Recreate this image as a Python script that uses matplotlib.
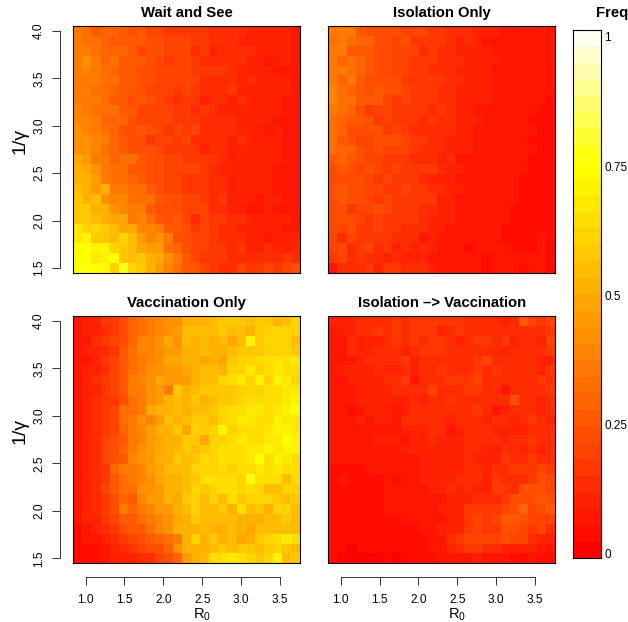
import colorsys
import numpy as np
import matplotlib
matplotlib.use("Agg")
import matplotlib.pyplot as plt
from matplotlib.colors import ListedColormap, BoundaryNorm

plt.rcParams['font.family'] = ['Liberation Sans', 'DejaVu Sans']
plt.rcParams['mathtext.default'] = 'regular'

W, H = 628, 622

# grid of the simulation
r0_vals = np.linspace(0.9, 3.7, 25)
gamma_vals = np.linspace(1.5, 4.0, 25)
x_ticks = [1.0, 1.5, 2.0, 2.5, 3.0, 3.5]
y_ticks = [1.5, 2.0, 2.5, 3.0, 3.5, 4.0]
bar_ticks = [0, 0.25, 0.5, 0.75, 1]
bar_labels = ["0", "0.25", "0.5", "0.75", "1"]

# frequencies in percent, first row is 1/gamma = 4.0, last is 1.5
wait_see = [
    [36,33,27,29,29,25,23,25,20,18,17,17,16,15,15,13,13,12,12,11,10,10,9,9,7],
    [37,31,31,30,27,27,26,25,22,21,19,18,18,17,15,14,13,13,11,11,10,10,9,9,7],
    [35,37,33,30,29,28,26,18,23,22,20,19,18,14,16,11,12,14,13,12,10,10,9,9,7],
    [36,41,36,29,31,25,25,25,23,19,17,20,19,17,14,14,13,12,12,10,11,8,9,9,7],
    [37,38,37,33,30,26,25,24,22,19,19,18,18,16,15,17,15,13,11,10,10,9,7,8,6],
    [36,34,34,33,31,27,25,23,22,20,20,19,18,18,12,12,13,12,11,13,10,11,10,10,7],
    [37,37,32,33,29,26,27,24,19,20,19,17,19,17,13,14,12,15,11,11,11,10,9,9,8],
    [35,37,36,32,26,27,23,25,21,20,16,12,17,16,11,14,13,11,14,11,9,9,9,8,7],
    [40,35,33,33,31,27,25,18,18,18,18,17,17,12,16,14,11,11,11,10,10,9,9,8,8],
    [40,39,37,29,30,28,22,20,19,20,18,17,16,15,14,12,13,12,11,10,11,9,8,7,6],
    [41,40,37,33,30,24,24,26,24,19,16,18,15,18,13,14,12,13,11,11,10,8,9,8,7],
    [42,42,38,34,30,27,24,23,17,19,19,17,18,14,13,12,12,11,12,9,10,10,9,7,7],
    [43,41,38,32,30,26,24,24,21,19,17,17,15,16,11,12,14,11,10,11,10,9,9,7,7],
    [49,45,37,36,29,31,33,26,22,22,20,18,17,16,17,15,12,11,10,11,9,9,9,6,7],
    [50,48,42,36,32,31,27,26,23,21,18,18,18,18,16,13,11,11,10,9,10,9,8,8,7],
    [52,50,45,36,33,32,28,27,23,22,19,19,17,17,16,14,12,11,9,11,10,9,8,7,7],
    [55,50,46,51,37,37,32,33,26,21,19,18,16,17,15,13,12,10,9,10,10,9,8,7,7],
    [59,52,56,42,38,38,33,33,31,26,22,22,18,18,15,13,15,10,10,11,8,9,9,6,8],
    [57,57,53,51,42,38,36,35,27,24,22,22,20,18,18,12,13,11,9,8,8,10,8,8,8],
    [58,59,54,52,48,48,36,38,31,27,24,25,20,13,20,15,15,13,12,9,11,10,9,9,8],
    [68,62,60,58,56,47,47,40,38,36,25,26,22,17,19,16,13,13,10,11,10,10,10,8,6],
    [68,72,58,58,55,60,55,44,40,41,34,24,24,18,18,16,13,12,12,9,11,8,10,9,9],
    [73,73,71,71,60,58,55,47,45,45,32,30,23,19,18,16,16,13,15,10,11,12,11,10,10],
    [73,73,69,71,74,58,56,58,53,48,41,36,25,18,17,15,16,13,12,12,12,12,12,15,14],
    [78,76,75,74,60,76,60,58,50,44,39,33,27,25,19,17,14,13,19,17,17,18,15,20,24],
]
isolation_only = [
    [34,37,36,26,24,22,24,22,20,19,18,17,15,13,13,12,11,11,9,8,7,6,6,6,5],
    [33,34,31,28,30,23,22,18,22,16,15,15,15,14,11,12,11,8,8,8,7,6,6,6,5],
    [37,36,27,27,26,23,21,19,19,18,14,16,14,14,11,10,11,9,8,6,8,6,6,5,5],
    [35,30,33,30,27,23,21,20,18,17,16,15,13,12,12,10,10,9,9,7,6,6,6,5,5],
    [37,34,32,30,26,21,23,19,18,17,16,12,13,12,11,11,9,9,8,7,6,6,6,5,5],
    [36,30,34,27,24,23,23,22,17,17,15,15,15,12,12,10,9,9,8,6,6,6,5,5,5],
    [39,31,29,26,23,26,23,21,19,16,15,15,13,12,11,10,9,10,7,6,7,6,5,6,5],
    [39,32,31,25,25,25,19,17,18,16,15,15,13,13,10,11,9,9,8,6,7,6,5,5,4],
    [35,31,28,21,16,20,19,15,15,17,15,14,15,12,9,10,8,7,7,6,6,6,5,4,4],
    [31,28,27,25,23,17,20,17,15,15,12,15,13,12,11,9,9,8,7,6,6,6,4,4,3],
    [33,29,23,24,23,21,16,18,15,13,13,13,12,12,9,9,8,8,6,7,6,5,5,4,3],
    [32,27,24,20,19,21,21,22,18,17,15,13,12,11,10,9,8,7,6,6,6,5,4,4,3],
    [31,30,28,24,20,23,19,19,18,16,13,14,12,10,11,9,8,8,6,6,6,5,5,4,3],
    [27,28,27,22,20,18,17,17,15,14,13,14,11,12,8,8,7,6,5,6,5,5,4,3,3],
    [23,25,22,20,21,18,16,18,17,16,16,15,12,10,10,8,7,6,6,6,5,5,4,4,3],
    [24,23,21,22,19,17,19,16,16,15,13,10,9,9,8,7,7,6,6,5,5,4,4,3,3],
    [23,25,24,21,18,20,17,15,18,16,15,14,13,9,9,7,6,6,5,6,5,4,3,3,3],
    [24,25,21,23,19,16,19,15,17,15,15,16,10,10,8,7,7,6,6,5,5,4,3,3,3],
    [23,24,15,19,20,21,18,17,15,15,14,12,9,9,8,7,6,6,6,5,4,4,3,4,3],
    [22,21,22,18,15,19,16,17,15,15,12,10,10,9,7,7,6,6,5,5,3,3,3,3,3],
    [21,18,22,17,16,18,15,15,14,13,12,9,9,8,7,6,6,5,5,4,3,3,3,3,3],
    [20,12,19,15,17,15,15,14,13,12,7,10,7,7,6,6,6,5,5,4,4,4,3,5,3],
    [19,18,12,15,19,14,15,11,12,10,12,11,8,7,6,4,6,5,5,6,4,3,4,5,4],
    [16,19,14,15,13,14,11,14,10,11,10,7,6,7,6,6,6,4,5,6,6,5,6,5,3],
    [6,14,13,12,17,9,15,15,14,13,13,9,6,6,5,5,5,3,7,6,5,4,6,7,3],
]
vaccination_only = [
    [5,9,9,15,17,21,29,31,35,38,41,41,50,51,52,55,58,58,58,56,57,57,51,56,62],
    [6,9,10,14,17,21,29,31,34,40,43,44,55,55,55,55,58,56,56,53,58,60,60,62,60],
    [6,8,12,16,18,22,30,40,40,42,49,43,56,53,55,51,55,48,55,72,59,60,62,60,56],
    [6,10,11,14,16,25,32,38,40,43,46,46,52,52,54,53,51,55,59,58,58,62,62,61,59],
    [5,8,10,16,20,26,32,36,40,43,49,47,52,53,48,52,49,57,60,61,65,64,67,65,68],
    [7,9,11,14,18,27,32,36,42,43,46,45,47,52,56,54,53,60,61,68,61,63,67,64,64],
    [7,10,13,16,20,25,34,38,41,47,46,46,44,53,55,55,60,66,68,61,70,60,71,68,62],
    [6,9,11,15,19,27,34,37,42,46,36,57,50,54,57,59,59,58,61,61,62,63,64,69,67],
    [7,10,13,16,17,21,32,35,41,46,51,56,52,57,52,55,57,58,61,63,63,65,65,69,71],
    [7,10,13,15,20,31,31,34,47,50,53,55,51,54,55,59,60,63,65,68,67,63,67,70,74],
    [7,11,13,17,20,32,37,43,40,45,56,50,55,59,59,56,61,63,67,68,66,66,71,68,69],
    [8,10,13,16,20,28,35,39,46,51,51,57,47,60,57,61,71,61,65,66,65,68,70,72,69],
    [7,9,13,18,21,27,37,40,44,47,50,51,57,59,49,60,61,65,67,66,66,69,68,74,71],
    [6,11,14,18,22,29,35,42,44,49,53,54,57,55,59,61,63,66,66,68,68,71,68,70,72],
    [7,11,14,18,21,25,38,41,46,51,53,57,56,57,63,62,65,65,65,69,74,65,71,69,66],
    [6,10,12,16,28,34,35,39,45,48,55,56,56,60,62,61,63,62,65,66,68,65,67,65,63],
    [6,9,12,17,25,31,34,39,42,47,51,52,55,58,63,63,64,64,60,75,64,65,64,56,64],
    [5,9,13,20,26,31,33,41,42,46,51,52,54,61,59,60,64,64,62,64,62,55,56,60,62],
    [6,9,12,16,23,30,27,39,44,44,50,49,58,60,55,61,56,65,59,62,60,60,59,56,58],
    [6,10,13,15,21,34,29,35,39,44,46,53,55,62,56,55,57,53,66,55,58,53,60,60,54],
    [6,9,11,15,18,25,27,31,37,39,43,48,53,57,54,54,56,55,53,52,50,56,55,57,54],
    [4,8,10,13,16,21,26,27,31,38,42,50,53,53,56,51,50,56,53,48,54,56,56,56,54],
    [3,5,7,11,13,16,19,23,26,28,32,36,51,62,53,58,50,54,49,53,57,61,65,68,66],
    [3,4,4,8,11,12,15,18,21,23,28,42,50,52,53,56,58,56,59,58,56,57,60,59,55],
    [3,4,2,5,9,10,11,13,14,18,22,29,46,50,54,63,65,67,63,61,57,60,70,56,58],
]
iso_then_vacc = [
    [9,10,11,12,12,13,14,15,13,16,15,15,17,15,15,14,13,12,12,11,13,25,20,16,20],
    [8,9,9,12,12,15,13,16,12,15,16,16,9,14,15,14,14,13,13,12,12,13,14,13,17],
    [8,8,12,10,11,11,13,15,12,16,14,15,15,14,11,14,16,15,14,15,10,14,13,11,18],
    [7,8,13,10,11,12,13,14,11,12,15,15,15,13,13,12,14,14,13,11,12,13,13,12,15],
    [6,7,7,10,12,12,13,12,15,11,13,14,13,13,14,14,15,18,13,13,13,12,12,11,11],
    [6,9,9,10,11,12,11,10,13,10,13,13,15,14,13,14,17,14,15,14,13,12,14,11,15],
    [7,8,9,10,9,10,12,13,15,8,12,13,14,15,15,16,20,14,14,14,12,14,13,17,14],
    [8,7,8,9,10,9,10,13,13,12,13,19,14,14,14,15,16,14,13,8,12,13,14,14,15],
    [7,8,7,10,11,10,9,11,11,12,11,14,14,16,14,13,13,14,13,13,21,12,12,10,12],
    [6,7,4,8,9,9,9,8,10,12,13,12,14,13,14,13,15,14,8,11,12,13,13,11,13],
    [6,8,8,9,8,11,10,7,12,12,12,14,12,11,13,12,14,9,14,12,11,13,17,13,11],
    [6,6,7,7,6,8,8,8,10,10,10,13,12,8,11,12,13,13,11,10,10,11,13,12,13],
    [6,6,5,8,8,11,10,9,8,11,11,12,10,9,10,13,13,14,12,11,13,12,16,14,14],
    [5,6,6,6,7,7,7,7,10,10,11,10,9,11,10,14,13,10,11,14,12,10,13,11,12],
    [5,5,5,6,6,6,6,6,8,7,9,9,10,10,10,12,10,11,11,15,12,12,16,14,14],
    [4,4,4,4,5,5,5,7,8,8,10,11,11,10,11,13,13,11,14,13,16,15,17,19,17],
    [4,5,3,4,4,4,5,3,7,7,9,9,9,9,13,12,12,10,17,12,13,14,17,22,19],
    [4,3,4,4,4,4,5,5,6,7,7,9,10,12,10,12,11,9,15,15,14,24,23,22,20],
    [3,3,3,4,4,4,5,5,5,6,7,8,8,9,10,10,12,14,13,17,23,24,23,25,21],
    [3,3,3,3,3,4,5,5,6,6,8,8,9,11,10,15,16,15,17,20,24,30,20,23,26],
    [2,2,3,3,3,4,4,4,5,5,6,7,8,10,11,17,18,17,20,26,25,23,18,20,19],
    [2,2,2,2,3,3,3,4,4,4,5,8,9,10,11,16,20,16,16,24,21,19,15,20,14],
    [2,2,2,2,2,3,4,3,4,4,3,5,7,12,17,19,20,20,19,24,19,19,14,10,10],
    [2,2,1,2,2,2,2,2,2,3,4,6,8,10,14,15,15,14,14,10,9,9,10,8,7],
    [2,1,1,1,1,1,2,1,2,2,3,4,5,6,7,8,9,8,8,6,4,3,5,4,3],
]


def heat_colors(n):
    """same ramp as R heat.colors"""
    j = n // 4
    i = n - j
    cols = [colorsys.hsv_to_rgb(h, 1, 1) for h in np.linspace(0, 1 / 6, i)]
    cols += [colorsys.hsv_to_rgb(1 / 6, s, 1)
             for s in np.linspace(1 - 1 / (2 * j), 1 / (2 * j), j)]
    return cols


n_levels = 32
cmap = ListedColormap(heat_colors(n_levels))
norm = BoundaryNorm(np.linspace(-1 / 62, 1 + 1 / 62, n_levels + 1), n_levels)


def px_axes(left, top, right, bottom):
    return fig.add_axes([left / W, 1 - bottom / H, (right - left) / W, (bottom - top) / H])


def edges(vals):
    step = vals[1] - vals[0]
    return np.append(vals - step / 2, vals[-1] + step / 2)


def draw_panel(box, values, title, left_axis, bottom_axis):
    ax = px_axes(*box)
    grid = np.array(values)[::-1] / 100
    ax.pcolormesh(edges(r0_vals), edges(gamma_vals), grid, cmap=cmap, norm=norm)
    ax.set_xticks([])
    ax.set_yticks([])
    for s in ax.spines.values():
        s.set_linewidth(0.8)
    ax.text(0.5, 1.026, title, transform=ax.transAxes, ha='center', va='bottom',
            fontsize=10.7, fontweight='bold')
    if left_axis:
        sec = ax.secondary_yaxis(-0.06)
        sec.set_yticks(y_ticks)
        sec.set_yticklabels([f"{v:.1f}" for v in y_ticks], rotation=90, va='center', fontsize=8.6)
        sec.tick_params(length=5.5, width=0.7, pad=5, color='#333333')
        sec.spines['left'].set_bounds(y_ticks[0], y_ticks[-1])
        sec.spines['left'].set_linewidth(0.7)
        sec.spines['left'].set_color('#333333')
    if bottom_axis:
        sec = ax.secondary_xaxis(-0.056)
        sec.set_xticks(x_ticks)
        sec.set_xticklabels([f"{v:.1f}" for v in x_ticks], fontsize=8.6)
        sec.tick_params(length=5.5, width=0.7, pad=6.5, color='#333333')
        sec.spines['bottom'].set_bounds(x_ticks[0], x_ticks[-1])
        sec.spines['bottom'].set_linewidth(0.7)
        sec.spines['bottom'].set_color('#333333')
    return ax


fig = plt.figure(figsize=(W / 100, H / 100), dpi=100)

draw_panel((73.3, 26, 300, 273), wait_see, "Wait and See", True, False)
draw_panel((328.4, 26, 555, 273), isolation_only, "Isolation Only", False, False)
draw_panel((73.3, 316, 300, 563.3), vaccination_only, "Vaccination Only", True, True)
draw_panel((328.4, 316, 555, 563.3), iso_then_vacc, "Isolation \u2013> Vaccination", False, True)

# axis titles
fig.text(20.5 / W, 1 - 141 / H, "1/\u03b3", rotation=90, ha='center', va='center', fontsize=14)
fig.text(20.5 / W, 1 - 431.5 / H, "1/\u03b3", rotation=90, ha='center', va='center', fontsize=14)
fig.text(202 / W, 1 - 614.5 / H, "R$_0$", ha='center', va='center', fontsize=10.5)
fig.text(457.5 / W, 1 - 614.5 / H, "R$_0$", ha='center', va='center', fontsize=10.5)

# legend strip
cax = px_axes(572.5, 30, 600.7, 558)
levels = np.arange(n_levels) / (n_levels - 1)
bar_edges = np.linspace(-0.008, 1.0135, n_levels + 1)
cax.pcolormesh([0, 1], bar_edges, levels[:, None], cmap=cmap, norm=norm)
cax.set_xticks([])
cax.yaxis.tick_right()
cax.set_yticks(bar_ticks)
cax.set_yticklabels(bar_labels, fontsize=8.5)
cax.tick_params(length=0, pad=2.5)
for s in cax.spines.values():
    s.set_linewidth(0.8)
fig.text(596 / W, 1 - 12.5 / H, "Freq", ha='left', va='center', fontsize=10.7, fontweight='bold')

fig.savefig("out.png", dpi=100)
